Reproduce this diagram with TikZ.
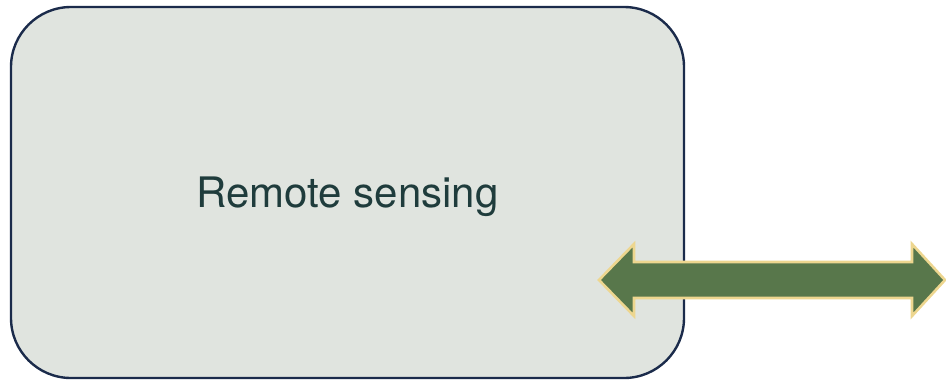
\documentclass[tikz,border=0pt]{standalone}
\usepackage{fontspec}
\setmainfont{TeX Gyre Heros}
\usepackage{xcolor}
\usetikzlibrary{positioning, calc}
\definecolor{sage}{HTML}{E0E4DF}
\definecolor{navy}{HTML}{1B2B4B}
\definecolor{deepteal}{HTML}{1F3C3C}
\definecolor{moss}{HTML}{58774B}
\definecolor{straw}{HTML}{EDD68F}
\tikzstyle{field} = [rectangle, rounded corners=60pt, minimum width=673pt, minimum height=371pt,
                     draw=navy, fill=sage, line width=2.4pt, text=deepteal, text depth=0pt,
                     font=\fontsize{42}{48}\selectfont]
\tikzstyle{twoway} = [draw=straw, fill=moss, line width=2.6pt, line join=miter]

\begin{document}
\begin{tikzpicture}[x=1pt, y=-1pt]
\useasboundingbox (0,0) rectangle (946,384);
\node[field] (sensing) at (347.5,192.5) {Remote sensing};
% two-way arrow
\draw[twoway] (599,280) -- (634,244) -- (634,262) -- (912,262) -- (912,244) -- (945,280)
  -- (912,316) -- (912,298) -- (634,298) -- (634,316) -- cycle;
\end{tikzpicture}
\end{document}
